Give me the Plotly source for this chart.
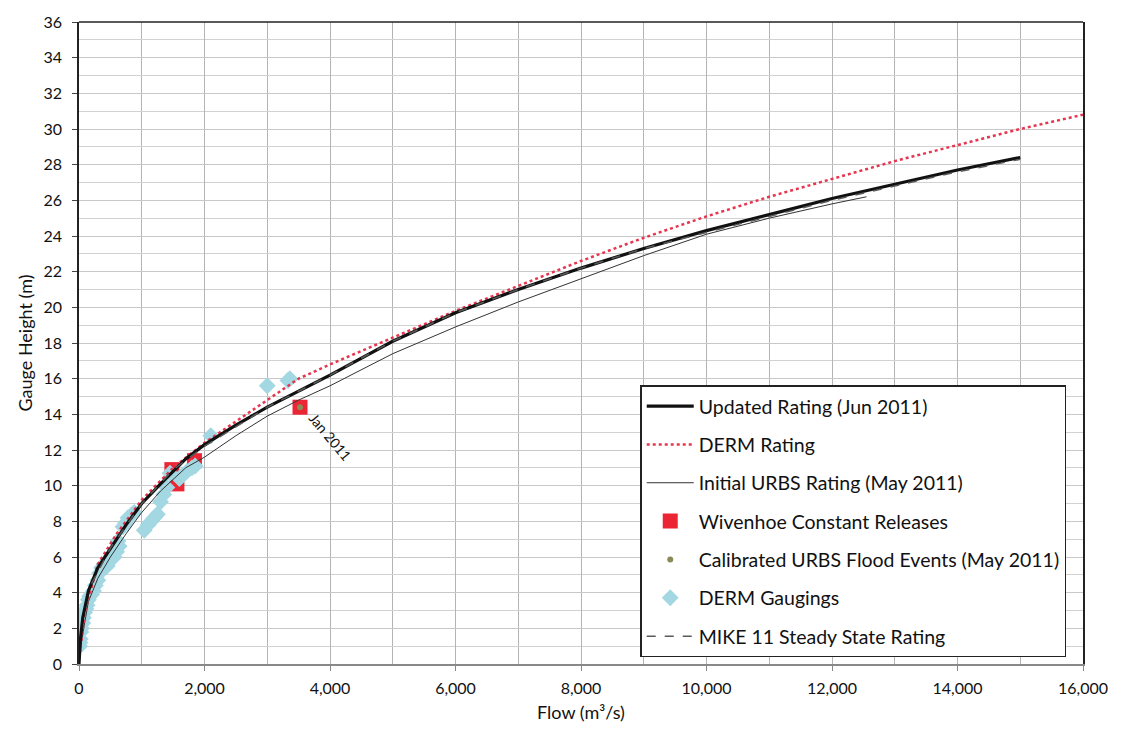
import plotly.graph_objects as go

# Rating curves (flow in m3/s, gauge height in m)
updated_flow = [0, 20, 60, 150, 300, 500, 750, 1000, 1300, 1700, 2000, 2500, 3000, 3500, 4000,
                5000, 6000, 7000, 8000, 9000, 10000, 11000, 12000, 13000, 14000, 15000]
updated_h = [0.0, 1.3, 2.6, 4.1, 5.4, 6.5, 7.8, 9.0, 10.1, 11.5, 12.3, 13.4, 14.4, 15.3, 16.2,
             18.1, 19.7, 21.0, 22.2, 23.3, 24.3, 25.2, 26.1, 26.9, 27.7, 28.4]

derm_flow = [0, 100, 300, 600, 1000, 1500, 2000, 2500, 3000, 3500, 4000, 5000, 6000, 7000,
             8000, 9000, 10000, 11000, 12000, 13000, 14000, 15000, 16000]
derm_h = [0.3, 3.0, 5.6, 7.3, 9.2, 11.0, 12.4, 13.6, 14.8, 16.0, 16.8, 18.3, 19.8, 21.2,
          22.6, 23.9, 25.1, 26.2, 27.2, 28.2, 29.1, 30.0, 30.8]

urbs_flow = [0, 50, 150, 300, 500, 750, 1000, 1300, 1700, 2000, 2500, 3000, 3500, 4000, 5000,
             6000, 7000, 8000, 9000, 10000, 11000, 12000, 12550]
urbs_h = [0.0, 1.5, 3.5, 4.8, 6.0, 7.3, 8.5, 9.7, 11.0, 11.6, 12.8, 13.9, 14.8, 15.6, 17.4,
          18.9, 20.3, 21.6, 22.9, 24.1, 25.0, 25.8, 26.2]

mike_flow = [200, 500, 1000, 1500, 2000, 3000, 4000, 5000, 6000, 7000, 8000, 9000, 10000,
             11000, 12000, 13000, 14000, 15000]
mike_h = [4.5, 6.5, 9.0, 10.9, 12.2, 14.4, 16.2, 18.1, 19.7, 21.0, 22.2, 23.3, 24.2, 25.1,
          26.0, 26.8, 27.6, 28.3]

# Observations
wivenhoe_flow = [1480, 1560, 1840, 3522]
wivenhoe_h = [10.9, 10.1, 11.4, 14.4]

urbs_event_flow = [3522]
urbs_event_h = [14.4]

gauging_flow = [10, 15, 20, 30, 40, 60, 70, 90, 110, 130, 150, 170, 200, 230, 260, 300, 330,
                360, 400, 450, 480, 520, 560, 600, 620, 640, 700, 740, 780, 850, 880, 1040,
                1100, 1150, 1200, 1250, 1300, 1350, 1400, 1450, 1600, 1650, 1720, 1800, 1850,
                2100, 3000, 3330, 3360]
gauging_h = [1.0, 1.2, 1.4, 1.8, 2.0, 2.3, 2.6, 2.9, 3.1, 3.3, 3.6, 3.8, 3.9, 4.1, 4.4, 4.7,
             5.1, 5.4, 5.6, 5.5, 5.9, 6.1, 6.0, 6.3, 6.9, 6.6, 7.7, 7.9, 8.2, 8.4, 8.5, 7.5,
             7.8, 8.0, 8.2, 8.4, 9.1, 9.5, 9.9, 10.7, 10.4, 10.6, 10.8, 11.0, 11.1, 12.8,
             15.6, 15.9, 16.0]

x_ticks = list(range(0, 16001, 2000))
y_ticks = list(range(0, 37, 2))

font_family = "Lato, 'Open Sans', sans-serif"

fig = go.Figure()

fig.add_trace(go.Scatter(
    x=wivenhoe_flow, y=wivenhoe_h, mode="markers", name="Wivenhoe Constant Releases",
    marker=dict(symbol="square", size=15, color="#ec2535", line=dict(width=0)),
    legendgroup="g4", legendrank=4))

fig.add_trace(go.Scatter(
    x=gauging_flow, y=gauging_h, mode="markers", name="DERM Gaugings",
    marker=dict(symbol="diamond", size=13, color="#a3d8e3", line=dict(width=0)),
    legendgroup="g6", legendrank=6))

fig.add_trace(go.Scatter(
    x=urbs_flow, y=urbs_h, mode="lines", name="Initial URBS Rating (May 2011)",
    line=dict(color="#333333", width=1),
    legendgroup="g3", legendrank=3))

fig.add_trace(go.Scatter(
    x=derm_flow, y=derm_h, mode="lines", name="DERM Rating",
    line=dict(color="#e8354f", width=2.5, dash="dot"),
    legendgroup="g2", legendrank=2))

fig.add_trace(go.Scatter(
    x=updated_flow, y=updated_h, mode="lines", name="Updated Rating (Jun 2011)",
    line=dict(color="#111111", width=3.2),
    legendgroup="g1", legendrank=1))

fig.add_trace(go.Scatter(
    x=mike_flow, y=mike_h, mode="lines", name="MIKE 11 Steady State Rating",
    line=dict(color="#5a5a5a", width=1.5, dash="dash"),
    legendgroup="g7", legendrank=7))

fig.add_trace(go.Scatter(
    x=urbs_event_flow, y=urbs_event_h, mode="markers",
    name="Calibrated URBS Flood Events (May 2011)",
    marker=dict(symbol="circle", size=6, color="#8a8a58"),
    legendgroup="g5", legendrank=5))

fig.add_annotation(
    x=4000, y=12.75, xref="x", yref="y", text="Jan 2011", showarrow=False,
    textangle=50, font=dict(family=font_family, size=14, color="#111111"))

# top border of the plot frame
fig.add_shape(type="line", xref="paper", yref="paper", x0=0, x1=1, y0=1, y1=1,
              line=dict(color="#222222", width=1.5))

fig.update_layout(
    width=1122, height=735,
    margin=dict(l=79, r=39, t=17, b=71),
    paper_bgcolor="white", plot_bgcolor="white",
    font=dict(family=font_family, size=16, color="#111111"),
    legend=dict(
        x=0.559, y=0.434, xanchor="left", yanchor="top",
        bgcolor="white", bordercolor="#222222", borderwidth=1.5,
        font=dict(family=font_family, size=19.5, color="#111111"),
        tracegroupgap=10, traceorder="grouped", itemwidth=47),
    xaxis=dict(
        range=[0, 16000], tickvals=x_ticks, tickformat=",d",
        title=dict(text="Flow (m³/s)", font=dict(size=18), standoff=10),
        showgrid=True, gridcolor="#b4b4b4", gridwidth=1,
        minor=dict(dtick=1000, showgrid=True, gridcolor="#b4b4b4", gridwidth=1),
        showline=True, linecolor="#888888", linewidth=1.5,
        ticks="outside", ticklen=5, tickcolor="#888888", zeroline=False,
        ticklabelstandoff=4),
    yaxis=dict(
        range=[0, 36], tickvals=y_ticks,
        title=dict(text="Gauge Height (m)", font=dict(size=18), standoff=6),
        showgrid=True, gridcolor="#c8c8c8", gridwidth=1,
        minor=dict(dtick=1, showgrid=True, gridcolor="#d2d2d2", gridwidth=1),
        showline=True, linecolor="#222222", linewidth=1.5, mirror=True,
        ticks="outside", ticklen=5, tickcolor="#444444", zeroline=False,
        ticklabelstandoff=7),
)

fig.write_html("out.html")
